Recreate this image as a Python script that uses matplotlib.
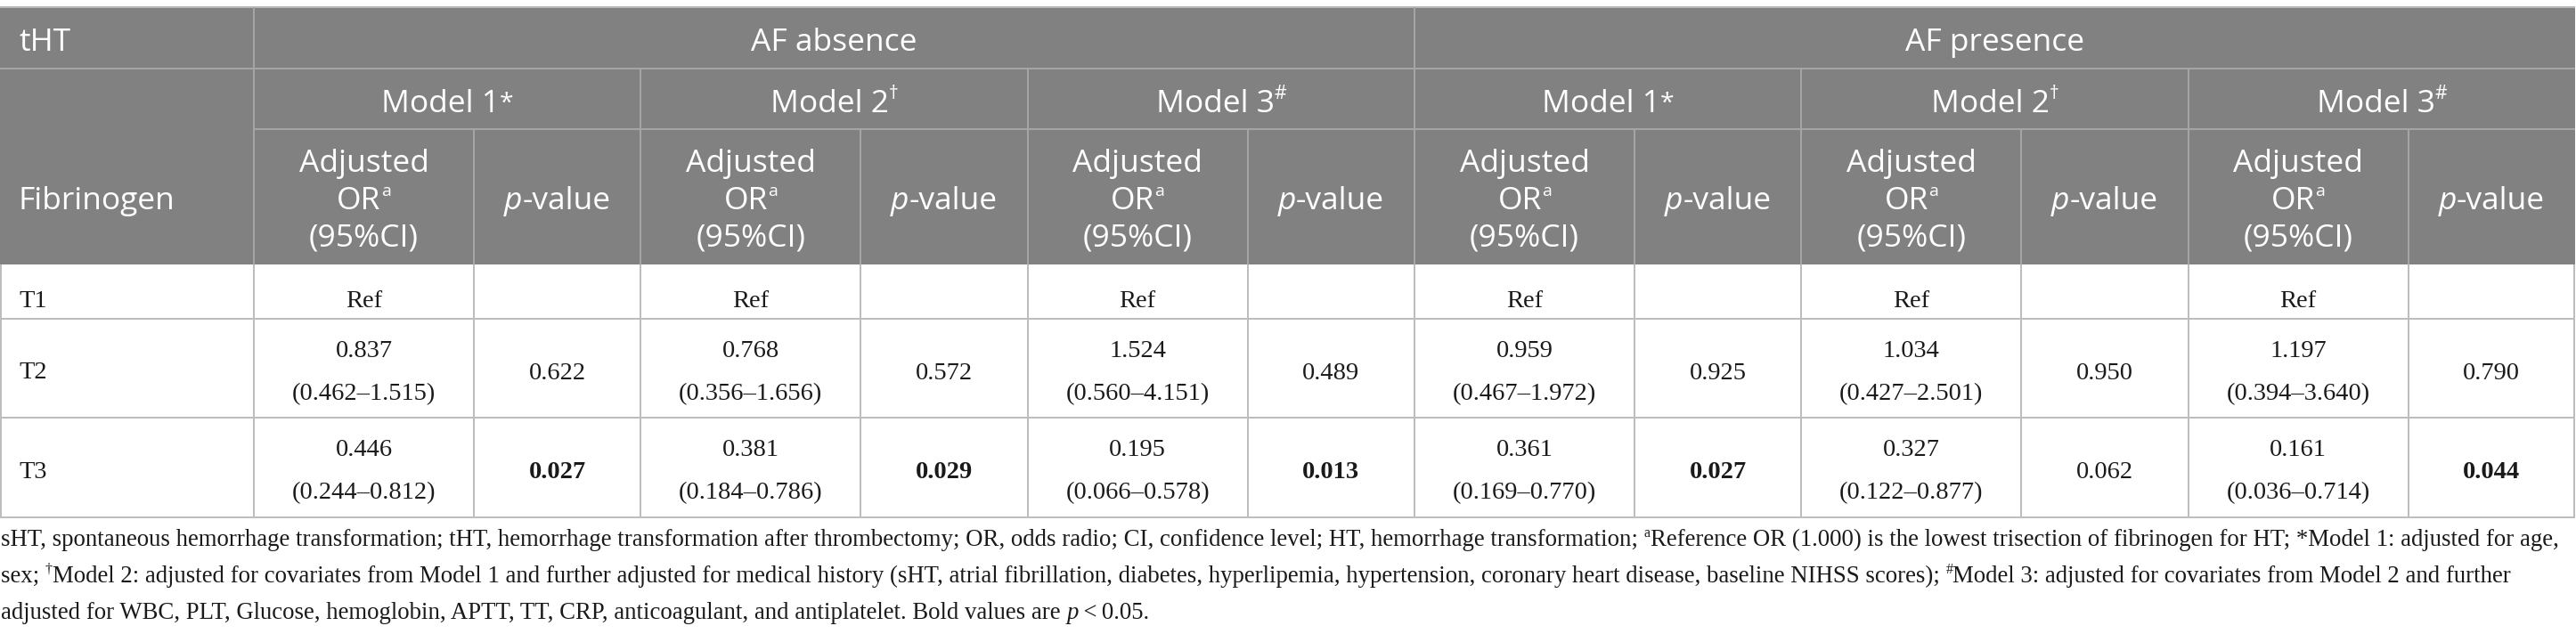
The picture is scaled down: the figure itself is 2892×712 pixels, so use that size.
import matplotlib
matplotlib.use('Agg')
import matplotlib.pyplot as plt
from matplotlib.patches import Rectangle

# ---------------- data ----------------
tertiles = ['T1', 'T2', 'T3']
af_groups = ['AF absence', 'AF presence']
models = ['Model 1', 'Model 2', 'Model 3']
model_marks = ['*', '\u2020', '#']

# odds ratios for T2, T3 (T1 is reference) per model
or_absence = [[0.837, 0.446], [0.768, 0.381], [1.524, 0.195]]
ci_absence = [[(0.462, 1.515), (0.244, 0.812)],
              [(0.356, 1.656), (0.184, 0.786)],
              [(0.560, 4.151), (0.066, 0.578)]]
p_absence = [[0.622, 0.027], [0.572, 0.029], [0.489, 0.013]]

or_presence = [[0.959, 0.361], [1.034, 0.327], [1.197, 0.161]]
ci_presence = [[(0.467, 1.972), (0.169, 0.770)],
               [(0.427, 2.501), (0.122, 0.877)],
               [(0.394, 3.640), (0.036, 0.714)]]
p_presence = [[0.925, 0.027], [0.950, 0.062], [0.790, 0.044]]

footnote_lines = [
    [("sHT, spontaneous hemorrhage transformation; tHT, hemorrhage transformation after thrombectomy; OR, odds radio; CI, confidence level; HT, hemorrhage transformation; ", 'n'),
     ("a", 's'),
     ("Reference OR (1.000) is the lowest trisection of fibrinogen for HT; *Model 1: adjusted for age,", 'n')],
    [("sex; ", 'n'), ("\u2020", 's'),
     ("Model 2: adjusted for covariates from Model 1 and further adjusted for medical history (sHT, atrial fibrillation, diabetes, hyperlipemia, hypertension, coronary heart disease, baseline NIHSS scores); ", 'n'),
     ("#", 's'),
     ("Model 3: adjusted for covariates from Model 2 and further", 'n')],
    [("adjusted for WBC, PLT, Glucose, hemoglobin, APTT, TT, CRP, anticoagulant, and antiplatelet. Bold values are ", 'n'),
     ("p", 'i'), ("\u2009<\u20090.05.", 'n')],
]

# ---------------- figure ----------------
W, H = 2892, 712
fig = plt.figure(figsize=(W / 100, H / 100), dpi=100)
ax = fig.add_axes([0, 0, 1, 1])
ax.set_xlim(0, W)
ax.set_ylim(H, 0)
ax.axis('off')
R = fig.canvas.get_renderer()

SANS = ['Open Sans', 'DejaVu Sans']
SERIF = ['Liberation Serif', 'DejaVu Serif']
HDR_BG = '#808180'
HDR_LINE = '#a4a5a4'
BODY_LINE = '#bdbdbd'
TOP_LINE = '#b8b8b8'
TXT = '#1a1a1a'
PX = 0.72  # points per pixel at dpi 100

# geometry
x_left, x_right = 1, 2891
x_lab = 285
gw = (x_right - x_lab) / 6.0
or_w = 247
y_top, y_r1, y_r2, y_hdr = 8, 77, 145, 297
y_rows = [297, 358, 469, 581]

group_x = [x_lab + i * gw for i in range(7)]
split_x = [g + or_w for g in group_x[:6]]


def tw(s, **kw):
    t = ax.text(0, 0, '|' + s + '|', **kw)
    w = t.get_window_extent(renderer=R).width
    t.set_text('||')
    w2 = t.get_window_extent(renderer=R).width
    t.remove()
    return w - w2


def rich(x, y, segs, size, family, color, ha='left', sup_scale=0.6, sup_raise=0.4,
         weight='normal'):
    """segs: list of (text, kind) kind n=normal, s=superscript, i=italic, a=asterisk-sup"""
    items = []
    for s, k in segs:
        kw = dict(family=family, color=color, weight=weight)
        dy = 0
        if k == 's':
            kw['fontsize'] = size * sup_scale
            dy = -sup_raise * size / PX
        elif k == 'a':
            kw['fontsize'] = size * 0.8
            dy = -0.05 * size / PX
        elif k == 'i':
            kw['fontsize'] = size
            kw['style'] = 'italic'
        else:
            kw['fontsize'] = size
        items.append((s, kw, dy, tw(s, **kw)))
    total = sum(it[3] for it in items)
    if ha == 'center':
        x0 = x - total / 2.0
    else:
        x0 = x
    cx = x0
    for s, kw, dy, w in items:
        ax.text(cx, y + dy, s, ha='left', va='baseline', **kw)
        cx += w
    return total


# ---------------- header background ----------------
ax.add_patch(Rectangle((0, y_top), x_right, y_hdr - y_top, facecolor=HDR_BG,
                       edgecolor='none', zorder=0))
lw = 2 * PX
ax.hlines(y_top, 0, x_right, color=TOP_LINE, lw=lw, zorder=2)
ax.hlines(y_r1, 0, x_right, color=HDR_LINE, lw=lw, zorder=2)
ax.hlines(y_r2, x_lab, x_right, color=HDR_LINE, lw=lw, zorder=2)
ax.vlines(x_lab, y_top, y_hdr, color=HDR_LINE, lw=lw, zorder=2)
ax.vlines(group_x[3], y_top, y_hdr, color=HDR_LINE, lw=lw, zorder=2)
for gx in group_x[1:6]:
    ax.vlines(gx, y_r1, y_hdr, color=HDR_LINE, lw=lw, zorder=2)
for sx in split_x:
    ax.vlines(sx, y_r2, y_hdr, color=HDR_LINE, lw=lw, zorder=2)

# ---------------- body lines ----------------
for yy in y_rows[1:]:
    ax.hlines(yy, 0, x_right, color=BODY_LINE, lw=lw, zorder=2)
for xx in [x_left, x_lab] + group_x[1:6] + split_x + [x_right - 1]:
    ax.vlines(xx, y_hdr, y_rows[-1], color=BODY_LINE, lw=lw, zorder=2)

# ---------------- header text ----------------
HS = 25.5  # pt
WHITE = 'white'
ax.text(21, 57, 'tHT', ha='left', va='baseline', fontsize=HS, family=SANS, color=WHITE)
ax.text(21, 235, 'Fibrinogen', ha='left', va='baseline', fontsize=HS, family=SANS, color=WHITE)
for gi, g in enumerate(af_groups):
    cx = (group_x[3 * gi] + group_x[3 * gi + 3]) / 2.0
    ax.text(cx, 57, g, ha='center', va='baseline', fontsize=HS, family=SANS, color=WHITE)
    for mi, m in enumerate(models):
        k = 3 * gi + mi
        mx = (group_x[k] + group_x[k + 1]) / 2.0
        mark = model_marks[mi]
        rich(mx, 126, [(m, 'n'), (mark, 'a' if mark == '*' else 's')], HS, SANS, WHITE,
             ha='center', sup_scale=0.6, sup_raise=0.42)
        ox = (group_x[k] + split_x[k]) / 2.0
        px_ = (split_x[k] + group_x[k + 1]) / 2.0
        ax.text(ox, 193, 'Adjusted', ha='center', va='baseline', fontsize=HS, family=SANS, color=WHITE)
        rich(ox, 235, [('OR', 'n'), ('a', 's')], HS, SANS, WHITE, ha='center',
             sup_scale=0.55, sup_raise=0.42)
        ax.text(ox, 277, '(95%CI)', ha='center', va='baseline', fontsize=HS, family=SANS, color=WHITE)
        rich(px_, 235, [('p', 'i'), ('-value', 'n')], HS, SANS, WHITE, ha='center')

# ---------------- body text ----------------
BS = 20.5  # pt
label_base = [345, 425, 537]
for ti, t in enumerate(tertiles):
    ax.text(21, label_base[ti], t, ha='left', va='baseline', fontsize=BS, family=SERIF, color=TXT)

all_or = [or_absence, or_presence]
all_ci = [ci_absence, ci_presence]
all_p = [p_absence, p_presence]
for gi in range(2):
    for mi in range(3):
        k = 3 * gi + mi
        ox = (group_x[k] + split_x[k]) / 2.0
        px_ = (split_x[k] + group_x[k + 1]) / 2.0
        ax.text(ox, 345, 'Ref', ha='center', va='baseline', fontsize=BS, family=SERIF, color=TXT)
        for r in range(2):
            top = y_rows[r + 1]
            v = all_or[gi][mi][r]
            lo, hi = all_ci[gi][mi][r]
            p = all_p[gi][mi][r]
            ax.text(ox, top + 43, f'{v:.3f}', ha='center', va='baseline', fontsize=BS,
                    family=SERIF, color=TXT)
            ax.text(ox, top + 91, f'({lo:.3f}\u2013{hi:.3f})', ha='center', va='baseline',
                    fontsize=BS, family=SERIF, color=TXT)
            ax.text(px_, top + 68, f'{p:.3f}', ha='center', va='baseline', fontsize=BS,
                    family=SERIF, color=TXT, weight='bold' if p < 0.05 else 'normal')

# ---------------- footnote ----------------
FS0 = 19.0
target = 2871.0
w1 = rich(-10000, -10000, footnote_lines[0], FS0, SERIF, TXT)
for t in list(ax.texts):
    if t.get_position()[0] < -1000:
        t.remove()
FS = FS0 * target / w1
foot_base = [613, 654, 695]
for li, segs in enumerate(footnote_lines):
    rich(1, foot_base[li], segs, FS, SERIF, TXT, sup_scale=0.6, sup_raise=0.38)

fig.savefig('out.png', dpi=100)
